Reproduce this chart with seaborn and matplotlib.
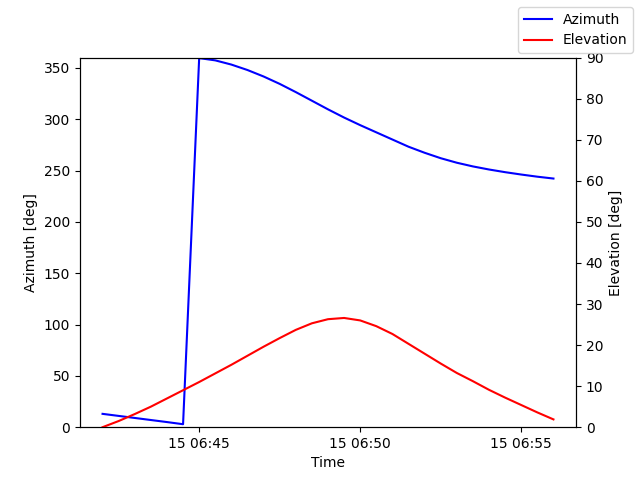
import numpy as np
import pandas as pd
import matplotlib
matplotlib.use("Agg")
import matplotlib.pyplot as plt
import seaborn as sns

# ── Data (pass sampled every 30 s) ───────────────────────────────────────────
times = pd.date_range("2024-01-15 06:42:00", periods=29, freq="30s")

azimuth = [13.0, 11.0, 9.0, 7.0, 5.0, 2.9,
           359.5, 357.3, 353.2, 347.9, 341.6, 334.4, 326.4, 318.0, 309.6,
           301.6, 294.2, 287.2, 280.2, 273.2, 267.3, 262.0, 257.6, 254.0,
           251.0, 248.4, 246.1, 244.0, 242.2]

elevation = [0.0, 1.5, 3.2, 5.0, 7.0, 9.0, 11.0, 13.1, 15.2, 17.4,
             19.6, 21.7, 23.7, 25.3, 26.3, 26.6, 26.0, 24.6, 22.7, 20.3,
             17.9, 15.5, 13.2, 11.2, 9.1, 7.2, 5.4, 3.6, 1.9]

df = pd.DataFrame({"time": times, "azimuth": azimuth, "elevation": elevation})

# ── Plot ─────────────────────────────────────────────────────────────────────
fig, ax = plt.subplots(figsize=(6.4, 4.8), dpi=100)
sns.lineplot(data=df, x="time", y="azimuth", ax=ax, color="blue",
             label="Azimuth", legend=False)
ax.set_ylim(0, 360)
ax.set_xlabel("Time")
ax.set_ylabel("Azimuth [deg]")

ax2 = ax.twinx()
sns.lineplot(data=df, x="time", y="elevation", ax=ax2, color="red",
             label="Elevation", legend=False)
ax2.set_ylim(0, 90)
ax2.set_ylabel("Elevation [deg]")

fig.legend(loc="upper right")
fig.savefig("out.png")
